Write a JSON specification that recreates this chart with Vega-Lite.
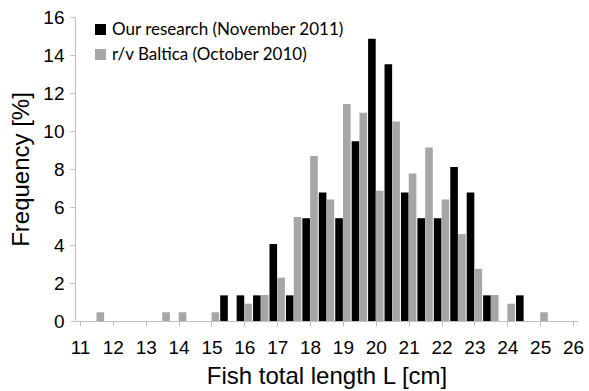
{
  "$schema": "https://vega.github.io/schema/vega-lite/v6.json",
  "width": 503,
  "height": 304,
  "autosize": "none",
  "padding": {"left": 75, "top": 17, "right": 11, "bottom": 70},
  "background": "white",
  "config": {
    "view": {"stroke": null},
    "font": "Liberation Sans",
    "axis": {
      "domainColor": "#bfbfbf",
      "tickColor": "#bfbfbf",
      "tickSize": 5,
      "grid": false,
      "labelFont": "Liberation Sans",
      "labelFontSize": 19,
      "labelColor": "#000000",
      "titleFont": "Liberation Sans",
      "titleFontSize": 24,
      "titleFontWeight": "normal",
      "titleColor": "#000000"
    }
  },
  "datasets": {
    "freq": [
      {"length": 15.5, "source": "Our research (November 2011)", "freq": 1.35},
      {"length": 16.0, "source": "Our research (November 2011)", "freq": 1.35},
      {"length": 16.5, "source": "Our research (November 2011)", "freq": 1.35},
      {"length": 17.0, "source": "Our research (November 2011)", "freq": 4.05},
      {"length": 17.5, "source": "Our research (November 2011)", "freq": 1.35},
      {"length": 18.0, "source": "Our research (November 2011)", "freq": 5.41},
      {"length": 18.5, "source": "Our research (November 2011)", "freq": 6.76},
      {"length": 19.0, "source": "Our research (November 2011)", "freq": 5.41},
      {"length": 19.5, "source": "Our research (November 2011)", "freq": 9.46},
      {"length": 20.0, "source": "Our research (November 2011)", "freq": 14.86},
      {"length": 20.5, "source": "Our research (November 2011)", "freq": 13.51},
      {"length": 21.0, "source": "Our research (November 2011)", "freq": 6.76},
      {"length": 21.5, "source": "Our research (November 2011)", "freq": 5.41},
      {"length": 22.0, "source": "Our research (November 2011)", "freq": 5.41},
      {"length": 22.5, "source": "Our research (November 2011)", "freq": 8.11},
      {"length": 23.0, "source": "Our research (November 2011)", "freq": 6.76},
      {"length": 23.5, "source": "Our research (November 2011)", "freq": 1.35},
      {"length": 24.5, "source": "Our research (November 2011)", "freq": 1.35},
      {"length": 11.5, "source": "r/v Baltica (October 2010)", "freq": 0.46},
      {"length": 13.5, "source": "r/v Baltica (October 2010)", "freq": 0.46},
      {"length": 14.0, "source": "r/v Baltica (October 2010)", "freq": 0.46},
      {"length": 15.0, "source": "r/v Baltica (October 2010)", "freq": 0.46},
      {"length": 16.0, "source": "r/v Baltica (October 2010)", "freq": 0.91},
      {"length": 16.5, "source": "r/v Baltica (October 2010)", "freq": 1.37},
      {"length": 17.0, "source": "r/v Baltica (October 2010)", "freq": 2.28},
      {"length": 17.5, "source": "r/v Baltica (October 2010)", "freq": 5.48},
      {"length": 18.0, "source": "r/v Baltica (October 2010)", "freq": 8.68},
      {"length": 18.5, "source": "r/v Baltica (October 2010)", "freq": 6.39},
      {"length": 19.0, "source": "r/v Baltica (October 2010)", "freq": 11.42},
      {"length": 19.5, "source": "r/v Baltica (October 2010)", "freq": 10.96},
      {"length": 20.0, "source": "r/v Baltica (October 2010)", "freq": 6.85},
      {"length": 20.5, "source": "r/v Baltica (October 2010)", "freq": 10.50},
      {"length": 21.0, "source": "r/v Baltica (October 2010)", "freq": 7.76},
      {"length": 21.5, "source": "r/v Baltica (October 2010)", "freq": 9.13},
      {"length": 22.0, "source": "r/v Baltica (October 2010)", "freq": 6.39},
      {"length": 22.5, "source": "r/v Baltica (October 2010)", "freq": 4.57},
      {"length": 23.0, "source": "r/v Baltica (October 2010)", "freq": 2.74},
      {"length": 23.5, "source": "r/v Baltica (October 2010)", "freq": 1.37},
      {"length": 24.0, "source": "r/v Baltica (October 2010)", "freq": 0.91},
      {"length": 25.0, "source": "r/v Baltica (October 2010)", "freq": 0.46}
    ]
  },
  "data": {"name": "freq"},
  "encoding": {
    "x": {
      "field": "length",
      "type": "quantitative",
      "scale": {"domain": [11, 26], "nice": false, "zero": false},
      "axis": {
        "values": [11, 12, 13, 14, 15, 16, 17, 18, 19, 20, 21, 22, 23, 24, 25, 26],
        "title": "Fish total length L [cm]",
        "labelBaseline": "alphabetic",
        "labelPadding": 27,
        "titleBaseline": "alphabetic",
        "titleY": 62,
        "labelFlush": false
      }
    },
    "y": {
      "field": "freq",
      "type": "quantitative",
      "scale": {"domain": [0, 16], "nice": false},
      "axis": {
        "values": [0, 2, 4, 6, 8, 10, 12, 14, 16],
        "title": "Frequency [%]",
        "labelPadding": 6,
        "titleBaseline": "alphabetic",
        "titleX": -47,
        "titleAngle": -90
      }
    },
    "color": {
      "field": "source",
      "type": "nominal",
      "scale": {
        "domain": ["Our research (November 2011)", "r/v Baltica (October 2010)"],
        "range": ["#000000", "#a6a6a6"]
      },
      "legend": {
        "title": null,
        "orient": "none",
        "legendX": 17,
        "legendY": 4,
        "padding": 0,
        "symbolType": "square",
        "symbolSize": 121,
        "symbolStrokeWidth": 0,
        "labelFont": "Lato",
        "labelFontSize": 17,
        "labelColor": "#000000",
        "labelOffset": 3,
        "rowPadding": 7,
        "labelLimit": 400
      }
    }
  },
  "layer": [
    {
      "transform": [{"filter": "datum.source === 'Our research (November 2011)'"}],
      "mark": {"type": "bar", "width": 7.6, "xOffset": -3.9}
    },
    {
      "transform": [{"filter": "datum.source === 'r/v Baltica (October 2010)'"}],
      "mark": {"type": "bar", "width": 7.6, "xOffset": 3.9}
    }
  ]
}
